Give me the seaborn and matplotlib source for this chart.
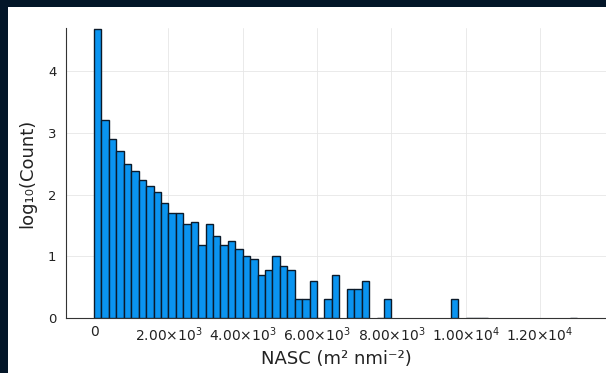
import numpy as np
import pandas as pd
import matplotlib
matplotlib.use("Agg")
import matplotlib.pyplot as plt
import seaborn as sns

# ---- data ----
bin_width = 200
# counts per 200-wide NASC bin, starting at 0 (0 = empty bin, not drawn)
counts = [48000, 1600, 810, 500, 310, 240, 175, 138, 110, 74,
          51, 51, 33, 36, 15, 34, 21, 15, 18, 13,
          10, 9, 5, 6, 10, 7, 6, 2, 2, 4,
          1, 2, 5, 0, 3, 3, 4, 0, 1, 2,
          0, 0, 0, 0, 0, 0, 0, 0, 2, 0,
          1, 1, 1, 0, 0, 0, 0, 0, 0, 0,
          0, 0, 0, 0, 1]
x_ticks = [0, 2000, 4000, 6000, 8000, 10000, 12000]
x_tick_labels = ["0", r"$2.00{\times}10^{3}$", r"$4.00{\times}10^{3}$",
                 r"$6.00{\times}10^{3}$", r"$8.00{\times}10^{3}$",
                 r"$1.00{\times}10^{4}$", r"$1.20{\times}10^{4}$"]
y_ticks = [0, 1, 2, 3, 4]
x_label = "NASC (m² nmi⁻²)"
y_label = "log₁₀(Count)"

# ---- build table ----
idx = np.arange(len(counts))
df = pd.DataFrame({"start": idx * bin_width, "count": counts})
df = df[df["count"] > 0].copy()
df["center"] = df["start"] + bin_width / 2
df["logc"] = np.log10(df["count"])

# ---- figure ----
sns.set_style("white")
plt.rcParams["font.family"] = ["DejaVu Sans"]
plt.rcParams["mathtext.fontset"] = "dejavusans"

W, H = 606, 373
fig = plt.figure(figsize=(W / 100, H / 100), dpi=100, facecolor="#031628")
bg = plt.Rectangle((8 / W, 0), 1 - 8 / W, 1 - 7 / H,
                   transform=fig.transFigure, facecolor="white",
                   edgecolor="none", zorder=-10)
fig.add_artist(bg)
ax = fig.add_axes([66 / W, (H - 318) / H, (W - 66) / W, (318 - 28) / H])
ax.set_zorder(5)
ax.set_facecolor("white")

sns.histplot(data=df, x="center", weights="logc", binwidth=bin_width,
             binrange=(0, len(counts) * bin_width), stat="count",
             color="#0a94f0", edgecolor="#0b1a2a", linewidth=1.0, alpha=1.0,
             ax=ax, zorder=3)

# hide bars of empty bins (log10(0) is not drawn in the original)
for p in ax.patches:
    b = int(round(p.get_x() / bin_width))
    if 0 <= b < len(counts) and counts[b] == 0:
        p.set_visible(False)

ax.set_xlim(-755, 13775)
ax.set_ylim(0, 4.70)
ax.set_xticks(x_ticks)
ax.set_xticklabels(x_tick_labels)
ax.set_yticks(y_ticks)
ax.grid(True, color="#e6e6e6", linewidth=0.6, zorder=0)
ax.set_axisbelow(True)
for s in ["top", "right"]:
    ax.spines[s].set_visible(False)
for s in ["left", "bottom"]:
    ax.spines[s].set_color("#333333")
    ax.spines[s].set_linewidth(0.8)
ax.tick_params(axis="both", direction="in", length=4, width=0.8,
               colors="#333333", labelcolor="#222222", labelsize=9.5)
ax.tick_params(axis="x", labelsize=10, pad=5)
ax.tick_params(axis="y", pad=7)
ax.set_xlabel(x_label, fontsize=13, color="#222222", labelpad=5)
ax.set_ylabel(y_label, fontsize=13, color="#222222", labelpad=8)

fig.savefig("out.png", dpi=100, facecolor=fig.get_facecolor())
